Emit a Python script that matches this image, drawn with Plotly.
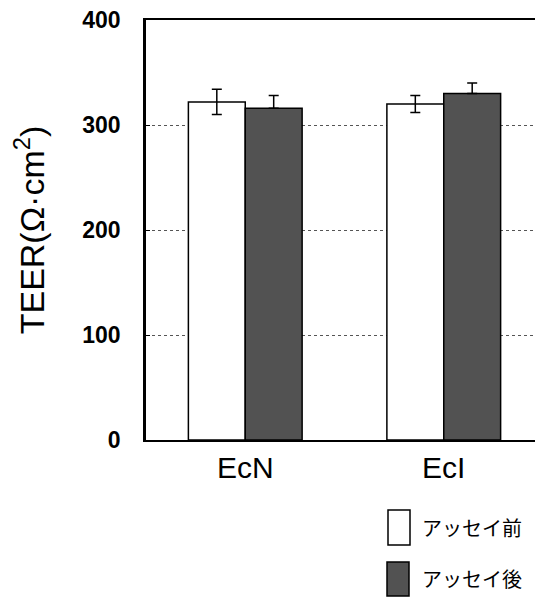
import plotly.graph_objects as go

categories = ["EcN", "EcI"]
series_names = ["アッセイ前", "アッセイ後"]
before_vals = [322, 320]
before_err = [12, 8]
after_vals = [316, 330]
after_err = [12, 10]
y_ticks = [0, 100, 200, 300, 400]

fill_colors = ["white", "#525252"]

fig = go.Figure()
fig.add_trace(go.Bar(
    x=categories, y=before_vals, name=series_names[0],
    marker=dict(color=fill_colors[0], line=dict(color="black", width=1.5)),
    error_y=dict(type="data", array=before_err, color="black", thickness=1.5, width=5),
    showlegend=False,
))
fig.add_trace(go.Bar(
    x=categories, y=after_vals, name=series_names[1],
    marker=dict(color=fill_colors[1], line=dict(color="black", width=1.5)),
    error_y=dict(type="data", symmetric=False, array=after_err, arrayminus=[0, 0],
                 color="black", thickness=1.5, width=5),
    showlegend=False,
))

# page body has an 8px default margin; figure is sized to fit the window
OFF = 8
W, H = 543 - OFF, 600 - OFF
L, T, B = 146 - OFF, 20 - OFF, 160
pw, ph = W - L, H - T - B

def px(x):
    return (x - OFF - L) / pw

def py(y):
    return (H - B - (y - OFF)) / ph

# custom legend (swatches + labels), given in page pixels
swatches = [(388, 510, 410, 545), (387, 562, 409, 596)]
label_y = [527, 578]
for i, name in enumerate(series_names):
    x0, y0, x1, y1 = swatches[i]
    fig.add_shape(type="rect", xref="paper", yref="paper",
                  x0=px(x0), x1=px(x1), y0=py(y1), y1=py(y0),
                  fillcolor=fill_colors[i], line=dict(color="black", width=1.5))
    fig.add_annotation(xref="paper", yref="paper", x=px(420), y=py(label_y[i]),
                       xanchor="left", yanchor="middle", text=name, showarrow=False,
                       font=dict(family="Noto Sans CJK JP", size=20, color="black"))

fig.update_layout(
    width=W, height=H,
    margin=dict(l=L, r=0, t=T, b=B, autoexpand=False),
    plot_bgcolor="white", paper_bgcolor="white",
    barmode="group", bargap=0.427, bargroupgap=0,
    font=dict(family="Arial, Liberation Sans", color="black"),
)
fig.update_xaxes(
    range=[-0.5, 1.5], showline=True, linecolor="black", linewidth=1.5, mirror=True,
    ticks="", showgrid=False, tickfont=dict(family="Liberation Sans", size=30, color="black"),
    ticklabelstandoff=0, automargin=False, ticklabeloverflow="allow",
)
fig.update_yaxes(
    range=[0, 400], tickvals=y_ticks, showline=True, linecolor="black", linewidth=2.5,
    ticks="inside", ticklen=4, tickcolor="black", zeroline=False,
    showgrid=True, gridcolor="#555555", griddash="dot", gridwidth=1,
    tickfont=dict(family="Liberation Sans", size=23, color="black", weight="bold"),
    ticklabelstandoff=18, automargin=False, ticklabeloverflow="allow",
    title=dict(text="TEER(Ω·cm<sup>2</sup>)", standoff=34,
               font=dict(family="Liberation Sans", size=34, color="black")),
)

fig.write_html("out.html")
